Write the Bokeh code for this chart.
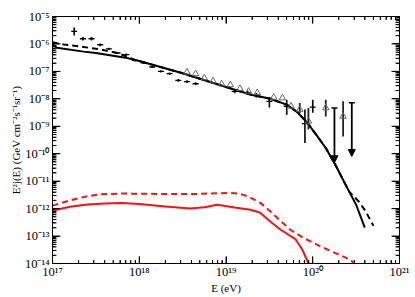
from bokeh.plotting import figure
from bokeh.models import (FixedTicker, LogAxis, CustomJSTickFormatter, Arrow,
                          NormalHead, ColumnDataSource, Range1d)
from bokeh.embed import file_html
from bokeh.resources import INLINE

# ---------------- data (log10 values) ----------------
# black model curves: log10(E/eV), log10(E^2 j)
solid_logE = [17.00, 17.05, 17.36, 17.50, 17.86, 18.00, 18.48, 19.00, 19.30, 19.50,
              19.70, 19.82, 19.94, 20.05, 20.15, 20.26, 20.42, 20.50, 20.60]
solid_logJ = [-6.02, -6.14, -6.28, -6.33, -6.51, -6.62, -7.05, -7.57, -7.86, -7.99,
              -8.21, -8.48, -8.88, -9.35, -9.79, -10.40, -11.38, -11.86, -12.69]

dashed_logE = [17.00, 17.13, 17.36, 17.55, 17.75, 17.95, 18.48, 19.00, 19.30, 19.50,
               19.70, 19.82, 19.94, 20.05, 20.15, 20.26, 20.42, 20.53, 20.61, 20.70]
dashed_logJ = [-5.94, -6.02, -6.11, -6.20, -6.33, -6.58, -7.05, -7.57, -7.86, -7.99,
               -8.21, -8.48, -8.88, -9.35, -9.79, -10.40, -11.38, -11.74, -12.10, -12.63]

# red curves
red_solid_logE = [17.00, 17.20, 17.40, 17.60, 17.80, 18.00, 18.30, 18.59, 18.75, 18.90,
                  19.10, 19.28, 19.39, 19.51, 19.63, 19.80, 19.88, 19.95]
red_solid_logJ = [-12.08, -11.93, -11.85, -11.81, -11.80, -11.83, -11.92, -12.00, -11.95, -11.86,
                  -11.96, -12.04, -12.14, -12.47, -12.77, -13.11, -13.50, -13.99]

red_dashed_logE = [17.00, 17.20, 17.40, 17.55, 17.80, 18.00, 18.59, 19.05, 19.15, 19.26,
                   19.40, 19.51, 19.74, 19.90, 20.09, 20.44, 20.47]
red_dashed_logJ = [-11.89, -11.70, -11.55, -11.48, -11.45, -11.46, -11.47, -11.43, -11.45, -11.56,
                   -11.80, -12.10, -12.77, -13.08, -13.38, -13.87, -14.00]

# crosses (with error bars)
cross_logE = [17.25, 17.35, 17.45, 17.55, 17.65, 17.75, 17.85, 17.95, 18.05, 18.15,
              18.25, 18.35, 18.45, 18.55, 18.65, 19.10, 19.25, 19.35, 19.50, 19.70,
              19.91, 20.00]
cross_logJ = [-5.54, -5.81, -5.81, -6.03, -6.18, -6.33, -6.39, -6.60, -6.69, -6.84,
              -7.00, -7.08, -7.33, -7.37, -7.45, -7.73, -7.78, -7.87, -8.09, -8.27,
              -8.90, -8.30]
cross_lo = [-5.69, -5.87, -5.87, -6.08, -6.22, -6.37, -6.43, -6.64, -6.73, -6.88,
            -7.04, -7.12, -7.38, -7.42, -7.50, -7.80, -7.85, -7.95, -8.32, -8.58,
            -9.61, -8.51]
cross_hi = [-5.40, -5.75, -5.75, -5.98, -6.14, -6.29, -6.35, -6.56, -6.65, -6.80,
            -6.96, -7.04, -7.28, -7.32, -7.40, -7.66, -7.71, -7.79, -7.95, -8.03,
            -8.39, -8.03]

# open triangles
tri_logE = [18.55, 18.65, 18.75, 18.85, 18.95, 19.05, 19.16, 19.26, 19.36, 19.55,
            19.65, 19.75, 19.85, 19.95, 20.15, 20.35]
tri_logJ = [-7.03, -7.09, -7.24, -7.35, -7.46, -7.49, -7.63, -7.73, -7.78, -7.95,
            -7.97, -8.27, -8.39, -8.82, -8.33, -8.64]
tri_lo = [-7.03, -7.09, -7.24, -7.35, -7.46, -7.49, -7.63, -7.73, -7.78, -7.95,
          -7.97, -8.27, -8.52, -9.12, -8.64, -9.37]
tri_hi = [-7.03, -7.09, -7.24, -7.35, -7.46, -7.49, -7.63, -7.73, -7.78, -7.95,
          -7.97, -8.27, -8.15, -8.33, -8.03, -8.09]

# upper limits (arrows)
ul_logE = [20.25, 20.45]
ul_top = [-8.33, -8.14]
ul_bottom = [-10.33, -10.10]

# axis ticks
x_major = [17, 18, 19, 20, 21]
y_major = [-14, -13, -12, -11, -10, -9, -8, -7, -6, -5]
minor_mult = [2, 3, 4, 5, 6, 7, 8, 9]


def p10(a):
    return [10.0 ** v for v in a]


FONT = "Liberation Serif"
LX0, LX1 = 17, 21
LY0, LY1 = -14, -5
FRAME_W, FRAME_H = 347, 248          # frame size in px (from the borders below)
DX = (LX1 - LX0) / FRAME_W          # decades per px along x
DY = (LY1 - LY0) / FRAME_H          # decades per px along y

p = figure(width=412, height=296, x_axis_type="log", y_axis_type="log",
           x_range=Range1d(10.0 ** LX0, 10.0 ** LX1), y_range=Range1d(10.0 ** LY0, 10.0 ** LY1),
           output_backend="svg", toolbar_location=None,
           min_border_left=52, min_border_right=13, min_border_top=16, min_border_bottom=32)
p.grid.visible = False
p.outline_line_color = "black"
p.background_fill_color = "white"

x_minor_log = [e + __import__("math").log10(m) for e in x_major[:-1] for m in minor_mult]
y_minor_log = [e + __import__("math").log10(m) for e in y_major[:-1] for m in minor_mult]
xt = FixedTicker(ticks=p10(x_major), minor_ticks=p10(x_minor_log))
yt = FixedTicker(ticks=p10(y_major), minor_ticks=p10(y_minor_log))

fmt = CustomJSTickFormatter(code="""
const e = Math.round(Math.log10(tick));
const sup = {'-':'\\u207b','0':'\\u2070','1':'\\u00b9','2':'\\u00b2','3':'\\u00b3','4':'\\u2074',
             '5':'\\u2075','6':'\\u2076','7':'\\u2077','8':'\\u2078','9':'\\u2079'};
return '10' + String(e).split('').map(c => sup[c]).join('');
""")
blank = CustomJSTickFormatter(code="return '';")


def style_axis(ax, ticker, labels=True):
    ax.ticker = ticker
    ax.major_tick_in = 7
    ax.major_tick_out = 0
    ax.minor_tick_in = 3
    ax.minor_tick_out = 0
    ax.axis_line_color = "black"
    ax.axis_line_width = 1
    ax.major_tick_line_color = "black"
    ax.minor_tick_line_color = "black"
    if labels:
        ax.formatter = fmt
        ax.major_label_text_font = FONT
        ax.major_label_text_font_size = "12.5px"
        ax.major_label_text_color = "black"
        ax.major_label_standoff = 1
    else:
        ax.formatter = blank
        ax.major_label_text_font_size = "2px"
        ax.major_label_text_color = None
        ax.major_label_standoff = 0


style_axis(p.xaxis[0], xt)
style_axis(p.yaxis[0], yt)
p.yaxis[0].major_label_standoff = 3
p.xaxis[0].axis_label = "E (eV)"
p.yaxis[0].axis_label = "E\u00b2j(E) (GeV cm\u207b\u00b2s\u207b\u00b9sr\u207b\u00b9)"
for ax in (p.xaxis[0], p.yaxis[0]):
    ax.axis_label_text_font = FONT
    ax.axis_label_text_font_style = "normal"
    ax.axis_label_text_font_size = "11px"
    ax.axis_label_text_color = "black"
    ax.axis_label_standoff = 0

right = LogAxis()
style_axis(right, yt, labels=False)
p.add_layout(right, "right")
top = LogAxis()
style_axis(top, xt, labels=False)
p.add_layout(top, "above")

# inward tick marks drawn as short segments from each frame edge
def vticks(logs, length_px):
    n = len(logs)
    xs = p10(logs) * 2
    y0 = [10.0 ** LY0] * n + [10.0 ** LY1] * n
    y1 = [10.0 ** (LY0 + length_px * DY)] * n + [10.0 ** (LY1 - length_px * DY)] * n
    p.segment(x0=xs, y0=y0, x1=xs, y1=y1, line_color="black", line_width=1)


def hticks(logs, length_px):
    n = len(logs)
    ys = p10(logs) * 2
    x0 = [10.0 ** LX0] * n + [10.0 ** LX1] * n
    x1 = [10.0 ** (LX0 + length_px * DX)] * n + [10.0 ** (LX1 - length_px * DX)] * n
    p.segment(x0=x0, y0=ys, x1=x1, y1=ys, line_color="black", line_width=1)


vticks(x_major, 7)
vticks(x_minor_log, 3.5)
hticks(y_major, 8)
hticks(y_minor_log, 4)

RED = "#ff1010"

# model curves
p.line(p10(solid_logE), p10(solid_logJ), line_color="black", line_width=2)
p.line(p10(dashed_logE), p10(dashed_logJ), line_color="black", line_width=2,
       line_dash="6 4")
p.line(p10(red_solid_logE), p10(red_solid_logJ), line_color=RED, line_width=2)
p.line(p10(red_dashed_logE), p10(red_dashed_logJ), line_color=RED, line_width=2,
       line_dash="6 4")

# crosses
p.segment(x0=p10(cross_logE), y0=p10(cross_lo), x1=p10(cross_logE), y1=p10(cross_hi),
          line_color="black", line_width=1.6)
p.scatter(p10(cross_logE), p10(cross_logJ), marker="dash", size=6,
          line_color="black", line_width=1.3)

# triangles
p.segment(x0=p10(tri_logE), y0=p10(tri_lo), x1=p10(tri_logE), y1=p10(tri_hi),
          line_color="#222222", line_width=1.8)
p.scatter(p10(tri_logE), p10(tri_logJ), marker="triangle", size=6.5,
          fill_color="white", fill_alpha=0.0, line_color="#666666", line_width=1)

# upper limits
ul_src = ColumnDataSource(dict(x=p10(ul_logE), y0=p10(ul_top), y1=p10(ul_bottom)))
p.add_layout(Arrow(end=NormalHead(size=7, fill_color="black", line_color="black"),
                   x_start="x", y_start="y0", x_end="x", y_end="y1",
                   line_width=1.8, line_color="black", source=ul_src))
p.scatter(p10(ul_logE), p10(ul_top), marker="dash", size=6, line_color="black",
          line_width=1.5)

open("out.html", "w").write(file_html(p, INLINE))
